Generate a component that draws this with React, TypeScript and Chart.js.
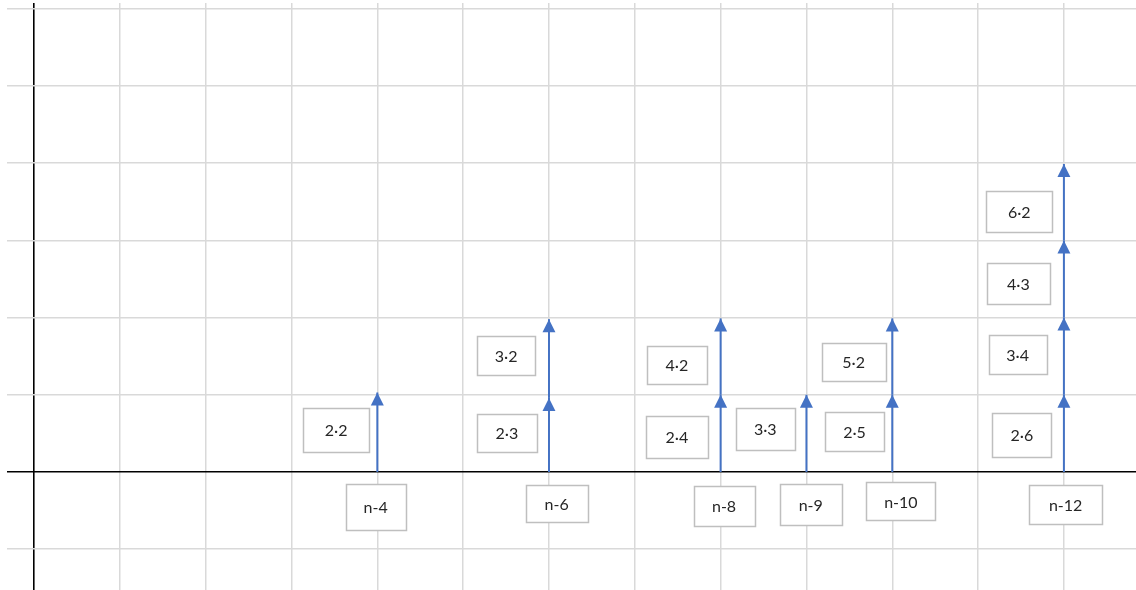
import { useEffect, useRef } from "react";
import { Chart, registerables } from "chart.js";

Chart.register(...registerables);

// ---- data ----
const xTicks = [0, 1, 2, 3, 4, 5, 6, 7, 8, 9, 10, 11, 12];
const yTicks = [-1, 0, 1, 2, 3, 4, 5, 6];

// arrow segments: column, start value, tip value
const arrowX = [4, 6, 6, 8, 8, 9, 10, 10, 12, 12, 12, 12];
const arrowStart = [0, 0, 0.96, 0, 1, 0, 0, 1, 0, 1, 2, 3];
const arrowTip = [1.03, 0.96, 1.98, 1, 1.99, 1, 1, 1.99, 1, 2, 3, 3.99];

// product labels (centre in data units)
const productLabels = ["2·2", "2·3", "3·2", "2·4", "4·2", "3·3", "2·5", "5·2", "2·6", "3·4", "4·3", "6·2"];
const productX = [3.52, 5.51, 5.5, 7.49, 7.49, 8.52, 9.56, 9.55, 11.51, 11.46, 11.47, 11.48];
const productY = [0.55, 0.51, 1.51, 0.45, 1.39, 0.56, 0.52, 1.43, 0.48, 1.52, 2.44, 3.37];

// term labels under the axis
const termLabels = ["n-4", "n-6", "n-8", "n-9", "n-10", "n-12"];
const termX = [3.98, 6.09, 8.04, 9.05, 10.1, 12.02];
const termY = [-0.45, -0.41, -0.44, -0.42, -0.38, -0.42];

// ---- styles ----
const productBoxW = [66, 60, 58, 62, 60, 59, 59, 64, 59, 58, 63, 66];
const productBoxH = [44, 38, 39, 42, 38, 42, 39, 38, 44, 39, 41, 41];
const termBoxW = [60, 62, 61, 62, 69, 73];
const termBoxH = [46, 37, 40, 41, 38, 39];

const ARROW_COLOR = "#4472c4";
const GRID_COLOR = "#d9d9d9";
const BOX_BORDER = "#bfbfbf";
const TEXT_COLOR = "#262626";
const FONT = "16px Lato, 'Noto Sans', sans-serif";

const overlayPlugin = {
  id: "overlay",
  afterDatasetsDraw(chart: any) {
    const { ctx, scales } = chart;
    const xs = scales.x;
    const ys = scales.y;
    ctx.save();
    // arrow heads
    ctx.fillStyle = ARROW_COLOR;
    for (let i = 0; i < arrowX.length; i++) {
      const px = xs.getPixelForValue(arrowX[i]);
      const py = ys.getPixelForValue(arrowTip[i]);
      ctx.beginPath();
      ctx.moveTo(px, py);
      ctx.lineTo(px - 6.5, py + 13);
      ctx.lineTo(px + 6.5, py + 13);
      ctx.closePath();
      ctx.fill();
    }
    const drawBox = (text: string, x: number, y: number, w: number, h: number) => {
      const cx = xs.getPixelForValue(x);
      const cy = ys.getPixelForValue(y);
      const left = Math.round(cx - w / 2) + 0.5;
      const top = Math.round(cy - h / 2) + 0.5;
      ctx.fillStyle = "#ffffff";
      ctx.fillRect(left, top, w, h);
      ctx.strokeStyle = BOX_BORDER;
      ctx.lineWidth = 1.5;
      ctx.strokeRect(left, top, w, h);
      ctx.fillStyle = TEXT_COLOR;
      ctx.font = FONT;
      ctx.textAlign = "center";
      ctx.textBaseline = "middle";
      ctx.fillText(text, cx, cy + 1);
    };
    for (let i = 0; i < productLabels.length; i++) {
      drawBox(productLabels[i], productX[i], productY[i], productBoxW[i], productBoxH[i]);
    }
    for (let i = 0; i < termLabels.length; i++) {
      drawBox(termLabels[i], termX[i], termY[i], termBoxW[i], termBoxH[i]);
    }
    ctx.restore();
  },
};

export default function App() {
  const canvasRef = useRef<HTMLCanvasElement | null>(null);

  useEffect(() => {
    document.body.style.margin = "0";
    const canvas = canvasRef.current;
    if (!canvas) return;

    const datasets = arrowX.map((x, i) => ({
      data: [
        { x, y: arrowStart[i] },
        { x, y: arrowTip[i] },
      ],
      showLine: true,
      borderColor: ARROW_COLOR,
      borderWidth: 2,
      pointRadius: 0,
      fill: false,
    }));

    const gridColor = (c: any) => (c.tick && c.tick.value === 0 ? "#000000" : GRID_COLOR);
    const gridWidth = (c: any) => (c.tick && c.tick.value === 0 ? 1.6 : 1.5);

    const chart = new Chart(canvas, {
      type: "scatter",
      data: { datasets },
      options: {
        animation: false,
        responsive: true,
        maintainAspectRatio: false,
        events: [],
        layout: { padding: { left: 7, top: 3, right: 0, bottom: 0 } },
        plugins: { legend: { display: false }, tooltip: { enabled: false } },
        scales: {
          x: {
            type: "linear",
            min: -0.315,
            max: 12.84,
            afterBuildTicks: (axis: any) => {
              axis.ticks = xTicks.map((v) => ({ value: v }));
            },
            ticks: { display: false },
            border: { display: false },
            grid: { color: gridColor, lineWidth: gridWidth, drawTicks: false },
          },
          y: {
            type: "linear",
            min: -1.528,
            max: 6.075,
            afterBuildTicks: (axis: any) => {
              axis.ticks = yTicks.map((v) => ({ value: v }));
            },
            ticks: { display: false },
            border: { display: false },
            grid: { color: gridColor, lineWidth: gridWidth, drawTicks: false },
          },
        },
      },
      plugins: [overlayPlugin],
    } as any);

    return () => chart.destroy();
  }, []);

  return (
    <div style={{ position: "relative", width: "1136px", height: "590px" }}>
      <canvas ref={canvasRef} />
    </div>
  );
}
